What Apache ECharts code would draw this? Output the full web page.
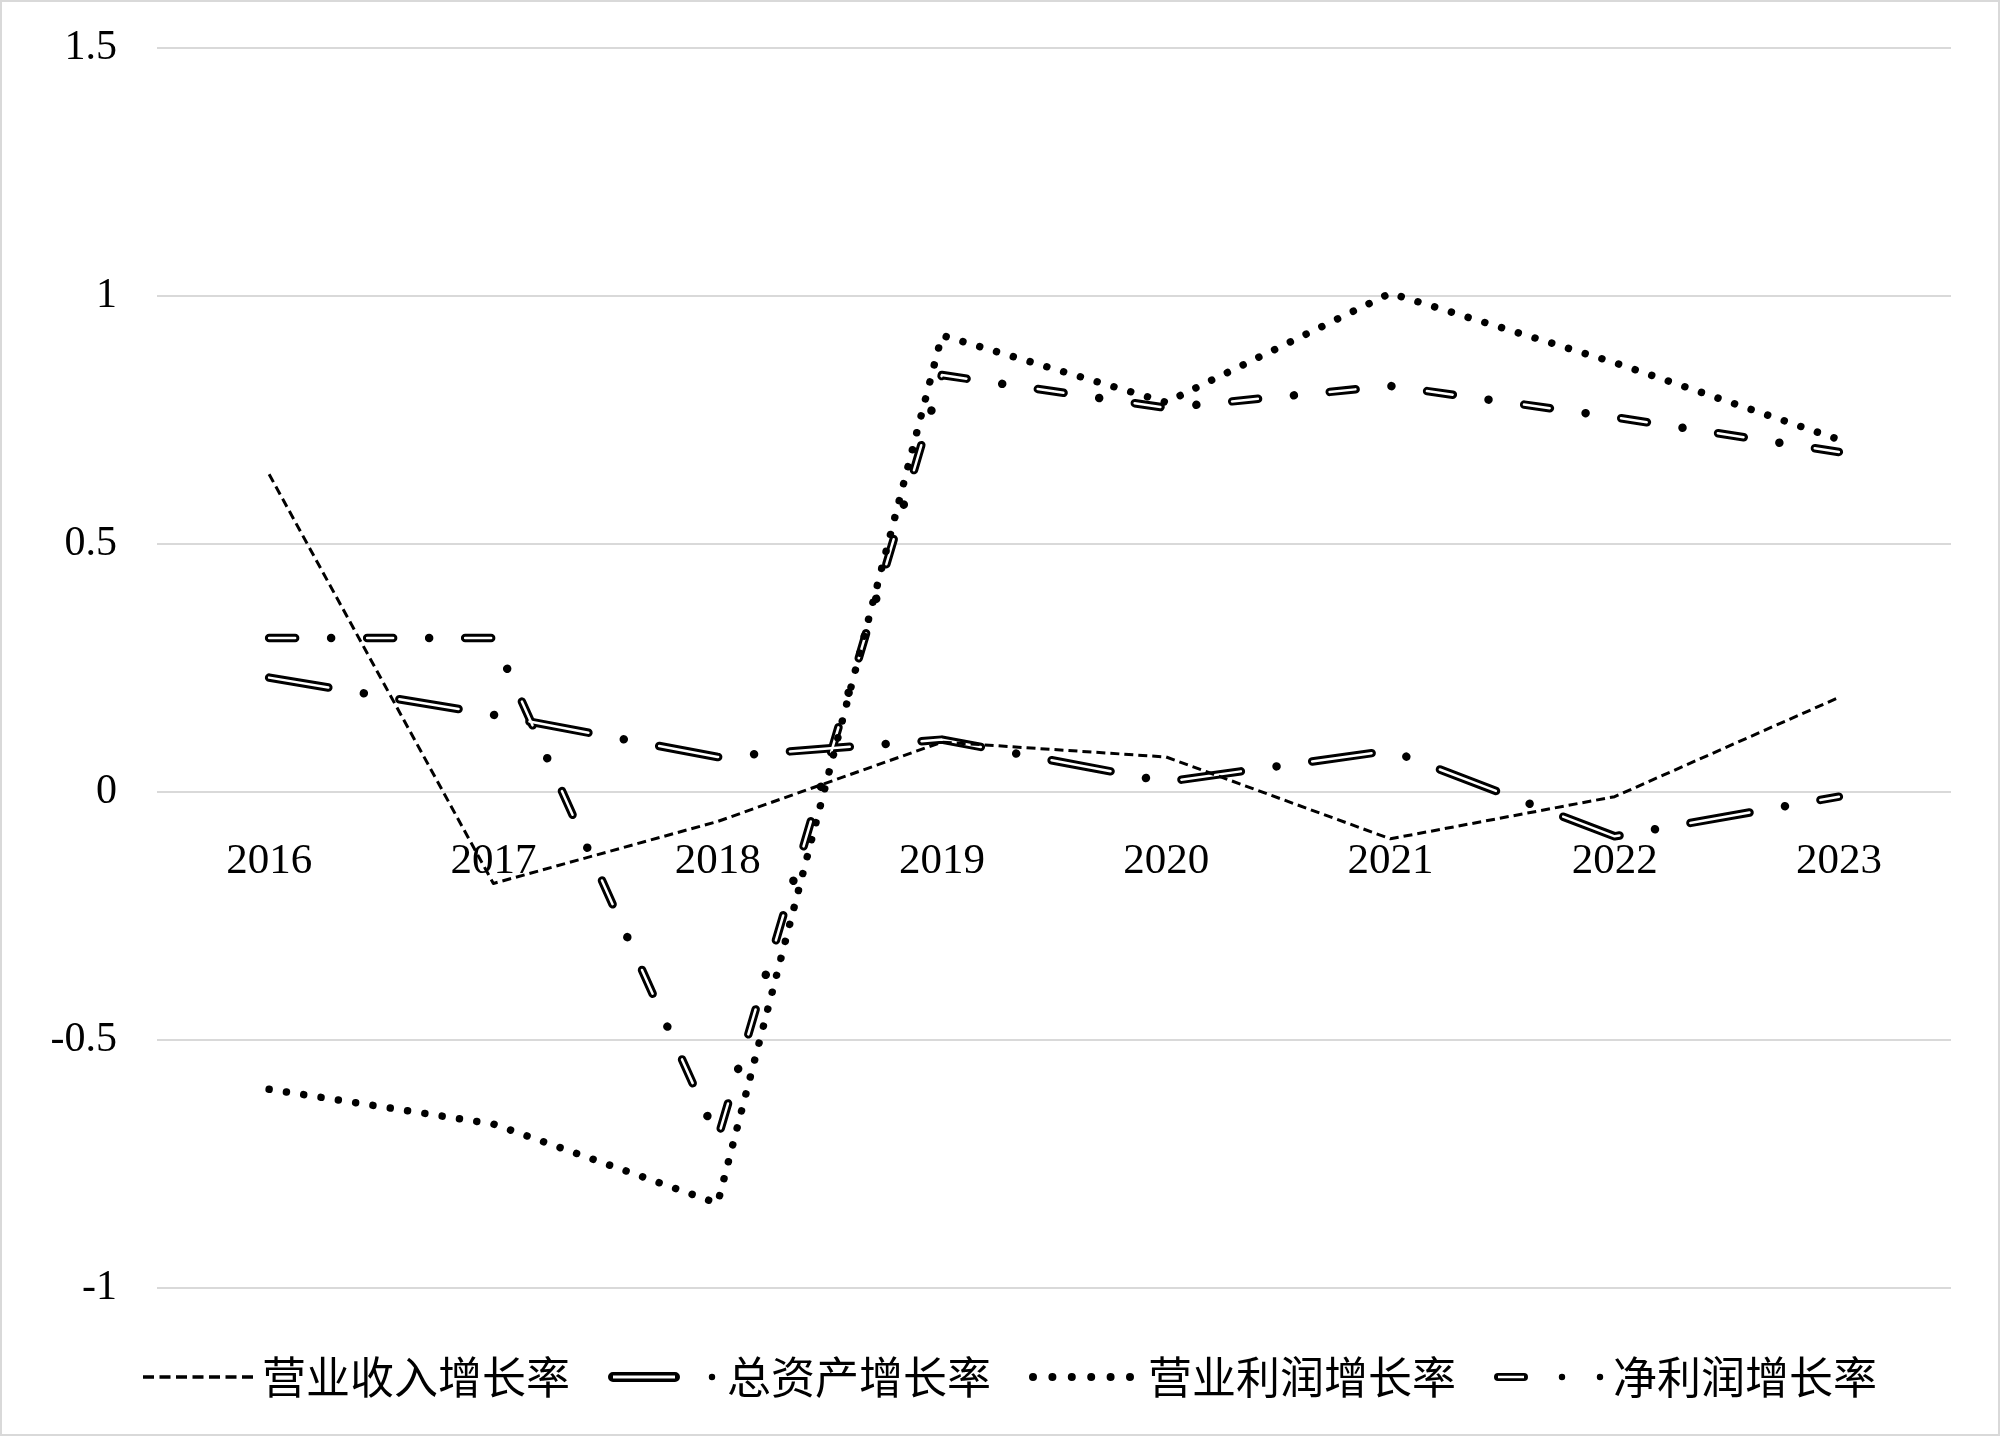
<!DOCTYPE html>
<html>
<head>
<meta charset="utf-8">
<script src="https://cdn.jsdelivr.net/npm/echarts@6/dist/echarts.min.js"></script>
<style>
html,body{margin:0;padding:0;background:#fff;}
#chart{width:2000px;height:1436px;}
</style>
</head>
<body>
<div id="chart"></div>
<script>
const categories = ['2016', '2017', '2018', '2019', '2020', '2021', '2022', '2023'];
const revenueGrowth   = [0.64, -0.185, -0.06, 0.10, 0.07, -0.095, -0.01, 0.19];
const assetGrowth     = [0.23, 0.155, 0.07, 0.105, 0.02, 0.083, -0.09, -0.01];
const opProfitGrowth  = [-0.60, -0.67, -0.83, 0.92, 0.785, 1.005, 0.865, 0.71];
const netProfitGrowth = [0.31, 0.31, -0.70, 0.84, 0.774, 0.818, 0.755, 0.685];
const seriesNames = ['营业收入增长率', '总资产增长率', '营业利润增长率', '净利润增长率'];

const BOX = 'M0 0M110 12';
function circ(cx, cy, r) {
  return 'M' + (cx - r) + ' ' + cy + 'A' + r + ' ' + r + ' 0 1 0 ' + (cx + r) + ' ' + cy +
         'A' + r + ' ' + r + ' 0 1 0 ' + (cx - r) + ' ' + cy + 'Z';
}
function capsule(x0, x1, y0, y1, inner) {
  const r = (y1 - y0) / 2;
  let p = 'M' + (x0 + r) + ' ' + y0 + 'L' + (x1 - r) + ' ' + y0 +
    'A' + r + ' ' + r + ' 0 0 1 ' + (x1 - r) + ' ' + y1 +
    'L' + (x0 + r) + ' ' + y1 +
    'A' + r + ' ' + r + ' 0 0 1 ' + (x0 + r) + ' ' + y0 + 'Z';
  const cy = (y0 + y1) / 2;
  p += 'M' + (x0 + r) + ' ' + (cy - inner / 2) + 'L' + (x0 + r) + ' ' + (cy + inner / 2) +
       'L' + (x1 - r) + ' ' + (cy + inner / 2) + 'L' + (x1 - r) + ' ' + (cy - inner / 2) + 'Z';
  return p;
}
let icon1 = BOX;
for (let i = 0; i < 7; i++) {
  const x = i * 16.5;
  icon1 += 'M' + x + ' 4.3L' + (x + 11) + ' 4.3L' + (x + 11) + ' 7.7L' + x + ' 7.7Z';
}
const icon2 = BOX + capsule(0, 72, 1, 11, 3) + circ(104, 6, 3.2);
let icon3 = BOX;
for (let i = 0; i < 6; i++) icon3 += circ(4 + i * 19.4, 6, 4);
const icon4 = BOX + capsule(0, 34, 2, 10, 2.6) + circ(68, 6, 3.2) + circ(106, 6, 3.2);

const chart = echarts.init(document.getElementById('chart'), null, {renderer: 'canvas'});
const axisFont = {fontFamily: '"Liberation Serif", "Times New Roman", serif', color: '#000'};

function lineSeries(name, data, width, dash, color, z, cap) {
  return {
    name: name, type: 'line', data: data, symbol: 'none', showSymbol: false,
    silent: true, z: z, animation: false,
    lineStyle: {color: color, width: width, type: dash, cap: cap || 'round', join: 'round'},
    itemStyle: {color: color}
  };
}

chart.setOption({
  backgroundColor: '#fff',
  animation: false,
  grid: {left: 157, right: 49, top: 47.7, bottom: 148.3, containLabel: false},
  graphic: [{
    type: 'rect', silent: true,
    shape: {x: 1, y: 1, width: 1998, height: 1434},
    style: {fill: 'none', stroke: '#d9d9d9', lineWidth: 2}
  }],
  xAxis: {
    type: 'category', data: categories, boundaryGap: true,
    position: 'bottom', offset: -496,
    axisLine: {show: false, onZero: false},
    axisTick: {show: false},
    axisLabel: Object.assign({fontSize: 43, margin: 49}, axisFont),
    splitLine: {show: false}
  },
  yAxis: {
    type: 'value', min: -1, max: 1.5, interval: 0.5,
    axisLine: {show: false}, axisTick: {show: false},
    axisLabel: Object.assign({fontSize: 42, margin: 40}, axisFont),
    splitLine: {show: true, lineStyle: {color: '#d9d9d9', width: 2}}
  },
  legend: {
    left: 138, top: 1350, orient: 'horizontal',
    itemWidth: 110, itemHeight: 12, itemGap: 38,
    symbolKeepAspect: false,
    selectedMode: false,
    itemStyle: {color: '#000', borderWidth: 0},
    textStyle: {fontSize: 44, color: '#000', fontFamily: '"Noto Sans CJK SC", sans-serif', padding: [0, 0, 0, 4]},
    data: [
      {name: seriesNames[0], icon: 'path://' + icon1},
      {name: seriesNames[1], icon: 'path://' + icon2},
      {name: seriesNames[2], icon: 'path://' + icon3},
      {name: seriesNames[3], icon: 'path://' + icon4}
    ]
  },
  series: [
    lineSeries(seriesNames[1], assetGrowth, 8.5, [60, 36, 0.01, 36], '#000', 3),
    lineSeries('assetInner', assetGrowth, 2.5, [60, 72], '#fff', 4),
    lineSeries(seriesNames[3], netProfitGrowth, 8.5, [26, 36, 0.01, 36], '#000', 3),
    lineSeries('netInner', netProfitGrowth, 2.5, [26, 72], '#fff', 4),
    lineSeries(seriesNames[2], opProfitGrowth, 7.5, [0.01, 17.5], '#000', 5),
    lineSeries(seriesNames[0], revenueGrowth, 3, [9, 5], '#000', 6, 'butt')
  ]
});
</script>
</body>
</html>
